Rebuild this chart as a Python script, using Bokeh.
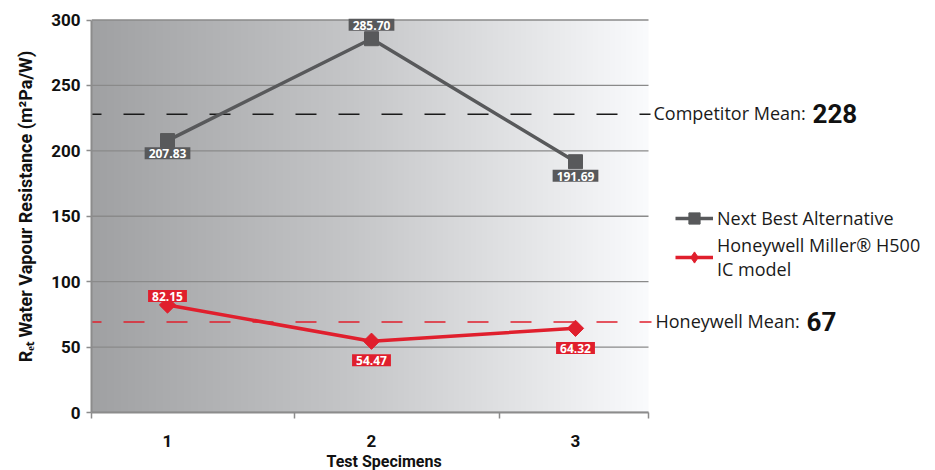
import numpy as np
from bokeh.plotting import figure
from bokeh.models import Range1d, FixedTicker, Label, Legend, LegendItem, Title
from bokeh.embed import file_html
from bokeh.resources import INLINE

# ---------------- data ----------------
specimens = [1, 2, 3]
x_tick_labels = ["1", "2", "3"]
next_best = [207.83, 285.70, 191.69]
honeywell = [82.15, 54.47, 64.32]
competitor_mean_line = 228.0
honeywell_mean_line = 69.2
competitor_mean_text = "228"
honeywell_mean_text = "67"
series_names = ["Next Best Alternative", "Honeywell Miller\u00ae H500\nIC model"]
y_ticks = [0, 50, 100, 150, 200, 250, 300]
x_title = "Test Specimens"
y_title = "R\u2091\u209c Water Vapour Resistance (m\u00b2Pa/W)"

# ---------------- styling ----------------
FONT = "Roboto"
FONT2 = "Open Sans"
GRAY = "#58595b"
RED = "#e01f2d"
W, H = 935, 470
FL, FB = 91, 412               # frame left / bottom (page px); frame spans to right & top edges
PPX = 204.0                    # px per specimen
PPY = 392.5 / 300.0            # px per unit
X0 = 1 - 76 / PPX              # left edge of plot area
XA = 3 + 73 / PPX              # right edge of plot area
X1 = X0 + (W - FL) / PPX
Y0 = 0.0
YA = 300.0
Y1 = FB / PPY


def dx(page_x):
    return X0 + (page_x - FL) / PPX


p = figure(width=W, height=H, x_range=Range1d(X0, X1), y_range=Range1d(Y0, Y1),
           output_backend="svg", toolbar_location=None,
           min_border_left=FL, min_border_right=0,
           min_border_top=0, min_border_bottom=H - FB,
           outline_line_color=None, background_fill_color="white",
           border_fill_color="white")

# gradient background of the plot area
ncols = int(round((XA - X0) * PPX))
fr = np.linspace(0, 1, ncols)
lvl = np.interp(fr, [0.0, 0.47, 1.0], [160, 197, 250])
img = np.empty((1, ncols), dtype=np.uint32)
view = img.view(dtype=np.uint8).reshape((1, ncols, 4))
view[0, :, 0] = np.clip(lvl, 0, 255).astype(np.uint8)
view[0, :, 1] = np.clip(lvl + 1, 0, 255).astype(np.uint8)
view[0, :, 2] = np.clip(lvl + 3, 0, 255).astype(np.uint8)
view[0, :, 3] = 255
p.image_rgba(image=[img], x=X0, y=Y0, dw=XA - X0, dh=YA - Y0, level="image")

# grid lines (plot area only)
p.xgrid.visible = False
p.ygrid.visible = False
p.segment(x0=[X0] * len(y_ticks), x1=[XA] * len(y_ticks), y0=y_ticks, y1=y_ticks,
          line_color="#8a8a8a", line_width=1.3)

# axes
p.yaxis.ticker = FixedTicker(ticks=y_ticks)
p.yaxis.bounds = (Y0, YA)
p.xaxis.ticker = FixedTicker(ticks=specimens, minor_ticks=[X0, 1.6225, 2.6275, XA])
p.xaxis.bounds = (X0, XA)
p.xaxis.major_label_overrides = {s: t for s, t in zip(specimens, x_tick_labels)}
for ax in (p.xaxis, p.yaxis):
    ax.axis_line_color = "#8c8c8c"
    ax.axis_line_width = 2
    ax.major_label_text_font = FONT
    ax.major_label_text_font_style = "bold"
    ax.major_label_text_font_size = "17px"
    ax.major_label_text_color = "#111111"
p.yaxis.major_tick_line_color = "#8c8c8c"
p.yaxis.major_tick_line_width = 1.5
p.yaxis.major_tick_out = 5
p.yaxis.major_tick_in = 0
p.yaxis.minor_tick_line_color = None
p.yaxis.major_label_standoff = 6
p.yaxis.axis_label = y_title
p.yaxis.axis_label_text_font = FONT
p.yaxis.axis_label_text_font_style = "bold"
p.yaxis.axis_label_text_color = "#111111"
p.yaxis.axis_label_text_font_size = "18px"
p.yaxis.axis_label_standoff = 12
p.xaxis.major_tick_out = 0
p.xaxis.major_tick_in = 0
p.xaxis.minor_tick_out = 6
p.xaxis.minor_tick_in = 0
p.xaxis.minor_tick_line_color = "#8c8c8c"
p.xaxis.minor_tick_line_width = 1.5
p.xaxis.major_label_standoff = 16

# x-axis title, centred under the plot area (not the whole frame)
p.add_layout(Title(text=x_title, align="left", offset=384 - FL - 58, standoff=0,
                   text_font=FONT, text_font_size="16px", text_font_style="bold",
                   text_color="#111111"), "below")

# mean lines (ending just before their captions)
p.segment(x0=[X0], x1=[dx(650)], y0=[competitor_mean_line], y1=[competitor_mean_line],
          line_color="#1a1a1a", line_width=1.5, line_dash="21 22", line_dash_offset=11)
p.segment(x0=[X0], x1=[dx(651)], y0=[honeywell_mean_line], y1=[honeywell_mean_line],
          line_color=RED, line_width=1.5, line_dash="21 22", line_dash_offset=11)

# series
gl = p.line(specimens, next_best, line_color=GRAY, line_width=3.5)
gs = p.scatter(specimens, next_best, marker="square", size=14, color=GRAY)
rl = p.line(specimens, honeywell, line_color=RED, line_width=3.5)
rs = p.scatter(specimens, honeywell, marker="square", angle=np.pi / 4, size=11.5, color=RED)
# diamond used only for the legend swatch
rs_leg = p.scatter(specimens, honeywell, marker="diamond", size=16, color=RED, visible=False)

# value labels
nb_off = [-12.6, 14, -14]
hw_off = [9, -19, -19.6]
for vals, offs, col in ((next_best, nb_off, GRAY), (honeywell, hw_off, RED)):
    for x, v, o in zip(specimens, vals, offs):
        p.add_layout(Label(x=x, y=v + o / PPY, text=f"{v:.2f}", text_align="center",
                           text_baseline="middle", text_font=FONT2, text_font_size="12px",
                           text_font_style="bold", text_color="white",
                           background_fill_color=col,
                           padding=dict(left=4, right=4, top=2, bottom=1)))

# mean captions
p.add_layout(Label(x=dx(653), y=competitor_mean_line + 1 / PPY, text="Competitor Mean:",
                   text_font=FONT2, text_font_size="18px", text_color="#1a1a1a",
                   text_baseline="alphabetic", text_align="left"))
p.add_layout(Label(x=dx(812), y=competitor_mean_line + 1 / PPY, text=competitor_mean_text,
                   text_font=FONT, text_font_size="26px", text_font_style="bold",
                   text_color="#111111", text_baseline="alphabetic", text_align="left"))
p.add_layout(Label(x=dx(655), y=honeywell_mean_line + 0.5 / PPY, text="Honeywell Mean:",
                   text_font=FONT2, text_font_size="18px", text_color="#1a1a1a",
                   text_baseline="alphabetic", text_align="left"))
p.add_layout(Label(x=dx(806), y=honeywell_mean_line + 0.5 / PPY, text=honeywell_mean_text,
                   text_font=FONT, text_font_size="26px", text_font_style="bold",
                   text_color="#111111", text_baseline="alphabetic", text_align="left"))

# legend
legend = Legend(items=[LegendItem(label=series_names[0], renderers=[gl, gs]),
                       LegendItem(label=series_names[1], renderers=[rl, rs_leg])],
                location=(675 - FL, FB - 281), padding=0, margin=0, spacing=1,
                glyph_width=38, glyph_height=28, label_standoff=4,
                border_line_color=None, background_fill_alpha=0,
                label_text_font=FONT2, label_text_font_size="18px",
                label_text_color="#1a1a1a")
p.add_layout(legend)

open("out.html", "w").write(file_html(p, INLINE))
